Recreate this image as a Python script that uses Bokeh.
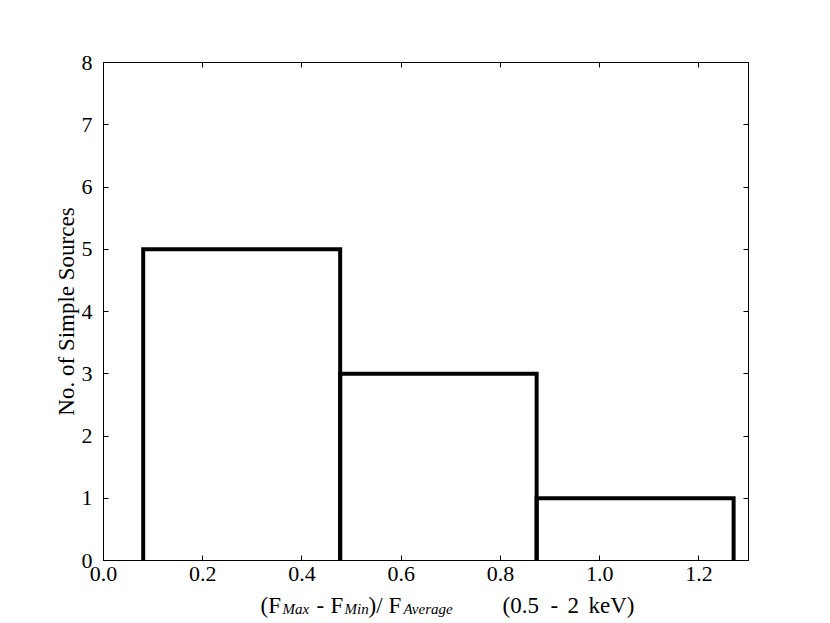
from bokeh.plotting import figure
from bokeh.layouts import column
from bokeh.models import LinearAxis, FixedTicker, Range1d, NumeralTickFormatter
from bokeh.core.properties import value
from bokeh.embed import file_html
from bokeh.resources import INLINE

# ---- data ----
bin_edges = [0.08, 0.477, 0.873, 1.27]
counts = [5, 3, 1]
x_ticks = [0.0, 0.2, 0.4, 0.6, 0.8, 1.0, 1.2]
y_ticks = [0, 1, 2, 3, 4, 5, 6, 7, 8]
y_label = "No. of Simple Sources"
# x-axis label pieces
x_label_main = ["(F", "-", "F", ")/", "F", "(0.5", "-", "2", "keV)"]
x_label_subs = ["Max", "Min", "Average"]

FONT = "Liberation Serif"
FS = "22px"
LABEL_FS = "23px"
SUB_FS = "15px"

W = 830
H_MAIN = 592
H_LAB = 31
L, R, T, B = 103, 82, 62, 32
X0, X1 = 0.0, 1.3
Y0, Y1 = 0.0, 8.0

p = figure(width=W, height=H_MAIN, output_backend="svg", toolbar_location=None,
           x_range=Range1d(X0, X1), y_range=Range1d(Y0, Y1),
           min_border_left=L, min_border_right=R, min_border_top=T, min_border_bottom=B,
           x_axis_type=None, y_axis_type=None)
p.grid.visible = False
p.outline_line_color = "black"
p.outline_line_width = 1
p.background_fill_color = "white"
p.border_fill_color = "white"

def style_axis(ax, show_labels):
    ax.major_tick_in = 5
    ax.major_tick_out = 0
    ax.minor_tick_in = 0
    ax.minor_tick_out = 0
    ax.axis_line_color = "black"
    ax.major_tick_line_color = "black"
    ax.major_label_text_font = FONT
    ax.major_label_text_color = "black"
    if show_labels:
        ax.major_label_text_font_size = FS
    else:
        ax.major_label_text_font_size = "0px"
        ax.major_label_standoff = 0

xb = LinearAxis(ticker=FixedTicker(ticks=x_ticks), formatter=NumeralTickFormatter(format="0.0"))
style_axis(xb, True)
xb.major_label_standoff = 6
p.add_layout(xb, "below")

xt = LinearAxis(ticker=FixedTicker(ticks=x_ticks))
style_axis(xt, False)
p.add_layout(xt, "above")

yl = LinearAxis(ticker=FixedTicker(ticks=y_ticks), axis_label=y_label)
style_axis(yl, True)
yl.major_label_standoff = 11
yl.axis_label_text_font = FONT
yl.axis_label_text_font_size = LABEL_FS
yl.axis_label_text_font_style = "normal"
yl.axis_label_text_color = "black"
yl.axis_label_standoff = 0
p.add_layout(yl, "left")

yr = LinearAxis(ticker=FixedTicker(ticks=y_ticks))
style_axis(yr, False)
p.add_layout(yr, "right")

# histogram bars: left, top, right edges (bottom lies on the axis)
xs, ys = [], []
for i, c in enumerate(counts):
    l, r = bin_edges[i], bin_edges[i + 1]
    xs.append([l, l, r, r])
    ys.append([0, c, c, 0])
p.multi_line(xs, ys, line_color="black", line_width=4, line_join="miter")

# ---- x-axis label strip (page-pixel coordinates; frame aligned with main frame) ----
q = figure(width=W, height=H_LAB, output_backend="svg", toolbar_location=None,
           x_range=Range1d(L, W - R), y_range=Range1d(0, H_LAB),
           min_border_left=L, min_border_right=R, min_border_top=0, min_border_bottom=0,
           x_axis_type=None, y_axis_type=None)
q.grid.visible = False
q.outline_line_color = None
q.background_fill_color = "white"
q.border_fill_color = "white"

main_x = [260, 316, 330, 368, 388, 502, 550, 567, 588]
sub_x = [282, 344, 403]
q.text(x=main_x, y=[18] * len(main_x), text=x_label_main,
       text_font=value(FONT), text_font_size=LABEL_FS, text_color="black",
       text_align="left", text_baseline="alphabetic")
q.text(x=sub_x, y=[15] * len(sub_x), text=x_label_subs,
       text_font=value(FONT), text_font_size=SUB_FS, text_font_style="italic",
       text_color="black", text_align="left", text_baseline="alphabetic")

layout = column(p, q, spacing=0)
open("out.html", "w").write(file_html(layout, INLINE))
